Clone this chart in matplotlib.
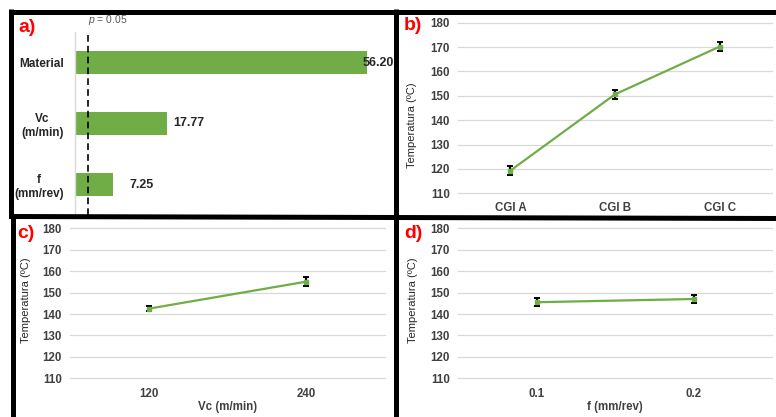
import matplotlib
matplotlib.use("Agg")
import matplotlib.pyplot as plt
from matplotlib.lines import Line2D

# Datos
factores = ["Material", "Vc\n(m/min)", "f\n(mm/rev)"]
f_valores = [56.20, 17.77, 7.25]
f_critico = 2.5

materiales = ["CGI A", "CGI B", "CGI C"]
temp_material = [119.3, 150.6, 170.2]
err_material = [1.7, 1.9, 1.8]

vc_niveles = ["120", "240"]
temp_vc = [142.5, 155.1]
err_vc = [1.3, 2.0]

f_niveles = ["0.1", "0.2"]
temp_f = [145.5, 147.0]
err_f = [1.8, 1.8]

# Estilo
plt.rcParams["font.family"] = ["Liberation Sans", "DejaVu Sans"]
plt.rcParams["mathtext.fontset"] = "custom"
plt.rcParams["mathtext.it"] = "Liberation Sans:italic"
plt.rcParams["mathtext.rm"] = "Liberation Sans"

VERDE = "#70AD47"
GRIS_GRID = "#D9D9D9"
TXT = "#404040"

W, H = 776, 417
fig = plt.figure(figsize=(W / 100, H / 100), dpi=100)
fig.patch.set_facecolor("white")


def eje(x0, y0, x1, y1):
    """Crea un eje a partir de coordenadas en pixeles (origen arriba-izquierda)."""
    return fig.add_axes([x0 / W, 1 - y1 / H, (x1 - x0) / W, (y1 - y0) / H])


def px(x, y):
    return x / W, 1 - y / H


# ---------- a) Pareto de efectos ----------
ax = eje(75, 32, 392, 215)
pos = list(range(len(factores)))
ax.barh(pos, f_valores, height=0.39, color=VERDE)
ax.set_xlim(0, 61)
ax.set_ylim(2.5, -0.5)
ax.set_yticks(pos)
ax.set_yticklabels(factores, fontweight="bold", fontsize=8.5, color="#262626",
                   multialignment="center")
ax.tick_params(axis="y", length=0, pad=8)
ax.set_xticks([])
for s in ["top", "right", "bottom"]:
    ax.spines[s].set_visible(False)
ax.spines["left"].set_color(GRIS_GRID)
ax.spines["left"].set_linewidth(1)
ax.axvline(f_critico, ymin=0, ymax=1.0, color="black", ls=(0, (4, 2.5)), lw=1.2,
           clip_on=False)
ax.text(f_critico, -0.7, "$p$ = 0.05", fontsize=7.5, color="#595959",
        ha="left", va="center")
desplaz = [-3, 4.5, 12]
for i, (v, d) in enumerate(zip(f_valores, desplaz)):
    ax.annotate(f"{v:.2f}", (v, i), xytext=(d, 0), textcoords="offset points",
                ha="left", va="center", fontsize=9, fontweight="bold", color="#262626")


# ---------- b), c), d) Efectos principales ----------
def efecto(axe, etiquetas, temps, errs, xlabel=None, pad_x=6):
    x = list(range(len(etiquetas)))
    axe.errorbar(x, temps, yerr=errs, color=VERDE, lw=1.6, marker="s", ms=2.5,
                 ecolor="black", elinewidth=1.6, capsize=2.2, capthick=1.4, zorder=3)
    axe.set_xlim(-0.5, len(etiquetas) - 0.5)
    axe.set_ylim(110, 180)
    axe.set_yticks(range(110, 181, 10))
    axe.set_xticks(x)
    axe.set_xticklabels(etiquetas)
    axe.grid(axis="y", color=GRIS_GRID, lw=0.9)
    for g in axe.get_ygridlines():
        g.set_clip_on(False)
    axe.set_axisbelow(True)
    for s in axe.spines.values():
        s.set_visible(False)
    axe.tick_params(length=0, labelsize=8.3, labelcolor=TXT)
    axe.tick_params(axis="y", pad=6)
    axe.tick_params(axis="x", pad=pad_x)
    for t in axe.get_xticklabels() + axe.get_yticklabels():
        t.set_fontweight("bold")
    axe.set_ylabel("Temperatura (ºC)", fontsize=8, color="#262626")
    if xlabel:
        axe.set_xlabel(xlabel, fontsize=8.3, fontweight="bold", color=TXT, labelpad=1)


axb = eje(458, 22.7, 772, 193.3)
efecto(axb, materiales, temp_material, err_material, pad_x=6)
axb.yaxis.set_label_coords((417 - 458) / 314, 0.4)

axc = eje(70, 228.3, 385, 378.3)
efecto(axc, vc_niveles, temp_vc, err_vc, "Vc (m/min)", pad_x=7)
axc.yaxis.set_label_coords((31 - 70) / 315, 0.52)

axd = eje(458, 228.3, 772, 378.3)
efecto(axd, f_niveles, temp_f, err_f, "f (mm/rev)", pad_x=7)
axd.yaxis.set_label_coords((418 - 458) / 314, 0.52)

# Etiquetas de panel
for txt, (x, y) in zip(["a)", "b)", "c)", "d)"],
                       [(18, 28), (404, 26), (17, 234), (404, 233)]):
    fig.text(*px(x, y), txt, color="#FF0000", fontsize=14, fontweight="bold",
             ha="left", va="center")

# Marcos de los paneles
lw = 3.6
for (x0, y0), (x1, y1) in [((9, 11.5), (776, 11.5)),
                           ((10.5, 9), (10.5, 216)),
                           ((13, 216), (13, 417)),
                           ((396.5, 9), (396.5, 417)),
                           ((9, 216.5), (776, 218.5))]:
    fig.add_artist(Line2D([x0 / W, x1 / W], [1 - y0 / H, 1 - y1 / H],
                          color="black", lw=lw, solid_capstyle="butt"))

fig.savefig("out.png", dpi=100, facecolor="white")
